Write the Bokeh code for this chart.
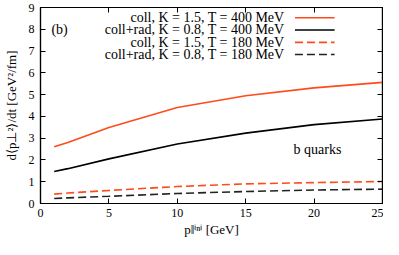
from bokeh.plotting import figure
from bokeh.models import Range1d, LinearAxis, Label, FixedTicker
from bokeh.embed import file_html
from bokeh.resources import INLINE

# ---- data ----
p_ini = [1, 2, 5, 10, 15, 20, 25]
coll_400 = [2.61, 2.80, 3.49, 4.41, 4.95, 5.31, 5.56]
collrad_400 = [1.47, 1.60, 2.05, 2.73, 3.23, 3.62, 3.88]
coll_180 = [0.43, 0.48, 0.60, 0.78, 0.90, 0.96, 1.01]
collrad_180 = [0.23, 0.26, 0.33, 0.46, 0.55, 0.62, 0.66]
labels = [
    "coll, K = 1.5, T = 400 MeV",
    "coll+rad, K = 0.8, T = 400 MeV",
    "coll, K = 1.5, T = 180 MeV",
    "coll+rad, K = 0.8, T = 180 MeV",
]
x_ticks = [0, 5, 10, 15, 20, 25]
y_ticks = [0, 1, 2, 3, 4, 5, 6, 7, 8, 9]

# ---- styles ----
ORANGE = "#ff4a1a"
BLACK = "#000000"
DARK = "#222222"
FONT = "serif"
series = [
    (coll_400, ORANGE, "solid"),
    (collrad_400, BLACK, "solid"),
    (coll_180, ORANGE, "8 4"),
    (collrad_180, DARK, "8 4"),
]

p = figure(width=383, height=239, output_backend="svg", toolbar_location=None,
           x_range=Range1d(0, 25), y_range=Range1d(0, 9),
           min_border_left=36, min_border_right=1, min_border_top=7,
           min_border_bottom=32)
p.grid.visible = False
p.outline_line_color = "black"
p.outline_line_width = 1.2
p.background_fill_color = "white"
p.border_fill_color = "white"

for ys, col, dash in series:
    p.line(p_ini, ys, line_color=col, line_width=1.6, line_dash=dash)

def style_axis(ax, show_labels=True):
    ax.major_tick_in = 5
    ax.major_tick_out = 0
    ax.minor_tick_in = 0
    ax.minor_tick_out = 0
    ax.axis_line_color = "black"
    ax.axis_line_width = 1.2
    ax.major_tick_line_width = 1
    ax.major_label_text_font = FONT
    ax.major_label_text_font_size = "12px"
    ax.major_label_text_color = "black"
    if not show_labels:
        ax.major_label_standoff = 0
        ax.major_label_overrides = {t: "" for t in ax.ticker.ticks}

xax = p.xaxis[0]
yax = p.yaxis[0]
xax.ticker = FixedTicker(ticks=x_ticks)
yax.ticker = FixedTicker(ticks=y_ticks)
style_axis(xax)
style_axis(yax)
xax.major_label_standoff = 5
yax.major_label_standoff = 6

top = LinearAxis(ticker=FixedTicker(ticks=x_ticks))
right = LinearAxis(ticker=FixedTicker(ticks=y_ticks))
style_axis(top, False)
style_axis(right, False)
p.add_layout(top, "above")
p.add_layout(right, "right")

xax.axis_label = "p\u2016\u2071\u207f\u2071 [GeV]"
yax.axis_label = "d\u27e8p\u22a5\u00b2\u27e9/dt [GeV\u00b2/fm]"
for ax in (xax, yax):
    ax.axis_label_text_font = FONT
    ax.axis_label_text_font_size = "13px"
    ax.axis_label_text_font_style = "normal"
    ax.axis_label_text_color = "black"
xax.axis_label_standoff = 2
yax.axis_label_standoff = 7

# ---- legend (manual, text right-aligned with sample to its right) ----
leg_text_x = 17.85
leg_line_x = [18.6, 21.5]
leg_y = [8.53, 7.97, 7.40, 6.84]
for (ys, col, dash), lab, ly in zip(series, labels, leg_y):
    p.add_layout(Label(x=leg_text_x, y=ly, text=lab, text_align="right",
                       text_baseline="middle", text_font=FONT,
                       text_font_size="14px", text_color="black"))
    p.line(leg_line_x, [ly, ly], line_color=col, line_width=1.6, line_dash=dash)

p.add_layout(Label(x=0.8, y=7.97, text="(b)", text_baseline="middle",
                   text_font=FONT, text_font_size="14px", text_color="black"))
p.add_layout(Label(x=18.5, y=2.47, text="b quarks", text_baseline="middle",
                   text_font=FONT, text_font_size="14px", text_color="black"))

open("out.html", "w").write(file_html(p, INLINE))
